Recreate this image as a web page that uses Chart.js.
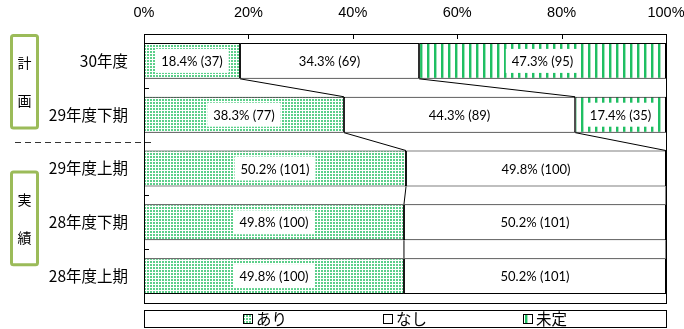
<!DOCTYPE html>
<html>
<head>
<meta charset="utf-8">
<script src="https://cdn.jsdelivr.net/npm/chart.js@4.4.1/dist/chart.umd.min.js"></script>
<style>
  html, body { margin: 0; padding: 0; background: #fff; }
</style>
</head>
<body>
<canvas id="surveychart" width="684" height="329"></canvas>
<script>
// values
const categories = ['30年度', '29年度下期', '29年度上期', '28年度下期', '28年度上期'];
const seriesNames = ['あり', 'なし', '未定'];
const ariPct = [18.4, 38.3, 50.2, 49.8, 49.8];
const nashiPct = [34.3, 44.3, 49.8, 50.2, 50.2];
const miteiPct = [47.3, 17.4, null, null, null];
const ariCount = [37, 77, 101, 100, 100];
const nashiCount = [69, 89, 100, 101, 101];
const miteiCount = [95, 35, null, null, null];
const xTicks = [0, 20, 40, 60, 80, 100];
const groups = [
    { chars: ['計', '画'], from: 0, to: 1 },
    { chars: ['実', '績'], from: 2, to: 4 },
];

const JP = '"Noto Sans CJK JP", "Noto Sans", sans-serif';

function makeDots() {
    const c = document.createElement('canvas');
    c.width = 3; c.height = 3;
    const g = c.getContext('2d');
    g.fillStyle = '#ffffff';
    g.fillRect(0, 0, 3, 3);
    g.fillStyle = '#5ccf8a';
    g.fillRect(0, 0, 2, 2);
    return g.createPattern(c, 'repeat');
}

function makeStripes() {
    const c = document.createElement('canvas');
    c.width = 7; c.height = 4;
    const g = c.getContext('2d');
    g.fillStyle = '#ffffff';
    g.fillRect(0, 0, 7, 4);
    g.fillStyle = '#1fbf63';
    g.fillRect(0, 0, 2, 4);
    g.fillStyle = '#9fe3ba';
    g.fillRect(2, 0, 1, 4);
    return g.createPattern(c, 'repeat');
}

const dots = makeDots();
const stripes = makeStripes();
const fills = [dots, '#ffffff', stripes];
const counts = [ariCount, nashiCount, miteiCount];

const decorations = {
    id: 'decorations',
    afterDatasetsDraw(chart) {
        const ctx = chart.ctx;
        const xs = chart.scales.x;

        // series lines between neighbouring bars
        ctx.save();
        ctx.strokeStyle = '#000';
        ctx.lineWidth = 1;
        const cum = categories.map((_, i) => [ariPct[i], ariPct[i] + nashiPct[i]]);
        for (let i = 0; i < categories.length - 1; i++) {
            const a = chart.getDatasetMeta(0).data[i];
            const b = chart.getDatasetMeta(0).data[i + 1];
            const yA = a.y + a.height / 2;
            const yB = b.y - b.height / 2;
            for (let k = 0; k < 2; k++) {
                ctx.beginPath();
                ctx.moveTo(xs.getPixelForValue(Math.min(cum[i][k], 100)), yA);
                ctx.lineTo(xs.getPixelForValue(Math.min(cum[i + 1][k], 100)), yB);
                ctx.stroke();
            }
        }
        ctx.restore();

        // value labels
        ctx.save();
        ctx.font = '13px Lato, "Liberation Sans", sans-serif';
        ctx.textAlign = 'center';
        ctx.textBaseline = 'middle';
        chart.data.datasets.forEach((ds, d) => {
            chart.getDatasetMeta(d).data.forEach((bar, i) => {
                const v = ds.data[i];
                if (v == null) return;
                const text = v.toFixed(1) + '% (' + counts[d][i] + ')';
                const cx = (bar.x + bar.base) / 2;
                if (d !== 1) {
                    const w = ctx.measureText(text).width + 12;
                    ctx.fillStyle = '#fff';
                    ctx.fillRect(cx - w / 2, bar.y - 12, w, 24);
                }
                ctx.fillStyle = '#000';
                ctx.fillText(text, cx, bar.y + 1);
            });
        });
        ctx.restore();
    },
    afterDraw(chart) {
        const ctx = chart.ctx;
        const xs = chart.scales.x;
        const ys = chart.scales.y;
        const area = chart.chartArea;
        const boundary = i => (ys.getPixelForValue(i) + ys.getPixelForValue(i + 1)) / 2;

        ctx.save();
        ctx.strokeStyle = '#000';
        ctx.lineWidth = 1;
        ctx.strokeRect(Math.round(area.left) + 0.5, Math.round(area.top) + 0.5,
            Math.round(area.right - area.left), Math.round(area.bottom - area.top));

        // inward tick marks
        ctx.beginPath();
        xTicks.slice(1, -1).forEach(v => {
            const x = Math.round(xs.getPixelForValue(v)) + 0.5;
            ctx.moveTo(x, area.top);
            ctx.lineTo(x, area.top + 5);
        });
        for (let i = 0; i < categories.length - 1; i++) {
            const y = Math.round(boundary(i)) + 0.5;
            ctx.moveTo(area.left, y);
            ctx.lineTo(area.left + 5, y);
        }
        ctx.stroke();

        // dashed separator between plan and actual
        const sepY = Math.round(boundary(1)) + 0.5;
        ctx.setLineDash([6, 4]);
        ctx.strokeStyle = '#333';
        ctx.beginPath();
        ctx.moveTo(15, sepY);
        ctx.lineTo(area.left + 9, sepY);
        ctx.stroke();
        ctx.setLineDash([]);

        // group boxes
        groups.forEach((g, n) => {
            const top = n === 0 ? area.top : boundary(g.from - 1) + 29;
            const bottom = n === 0 ? boundary(g.to) - 12 : boundary(g.to - 1) + 17;
            ctx.strokeStyle = '#9bbb59';
            ctx.lineWidth = 3;
            ctx.beginPath();
            ctx.roundRect(11.5, top + 1.5, 26, bottom - top - 3, 2);
            ctx.stroke();
            const mid = (top + bottom) / 2;
            ctx.fillStyle = '#000';
            ctx.font = '14px ' + JP;
            ctx.textAlign = 'center';
            ctx.textBaseline = 'middle';
            ctx.fillText(g.chars[0], 24.5, mid - 19);
            ctx.fillText(g.chars[1], 24.5, mid + 19);
        });

        // legend
        const lx = Math.round(area.left) + 0.5;
        const lw = Math.round(area.right - area.left);
        ctx.strokeStyle = '#000';
        ctx.lineWidth = 1;
        ctx.strokeRect(lx, 310.5, lw, 17);
        ctx.font = '15.5px ' + JP;
        ctx.textAlign = 'left';
        ctx.textBaseline = 'middle';
        const centre = lx + lw / 2;
        seriesNames.forEach((name, k) => {
            const tw = ctx.measureText(name).width;
            const itemW = 10 + 3 + tw;
            const x0 = Math.round(centre + (k - 1) * 140 - itemW / 2);
            ctx.fillStyle = fills[k];
            ctx.fillRect(x0, 314, 10, 10);
            ctx.strokeStyle = '#000';
            ctx.strokeRect(x0 + 0.5, 314.5, 9, 9);
            ctx.fillStyle = '#000';
            ctx.fillText(name, x0 + 13, 319.5);
        });
        ctx.restore();
    }
};

document.addEventListener('DOMContentLoaded', function () {
    const ctx = document.getElementById('surveychart').getContext('2d');
    const values = [ariPct, nashiPct, miteiPct];

    new Chart(ctx, {
        type: 'bar',
        data: {
            labels: categories,
            datasets: seriesNames.map((name, k) => ({
                label: name,
                data: values[k],
                backgroundColor: fills[k],
                borderColor: '#000',
                borderWidth: 1,
                borderSkipped: false,
                categoryPercentage: 1,
                barPercentage: 0.667,
            })),
        },
        options: {
            indexAxis: 'y',
            responsive: false,
            animation: false,
            layout: { padding: { left: 0, right: 18, top: 0, bottom: 26 } },
            plugins: {
                legend: { display: false },
                tooltip: { enabled: false },
            },
            scales: {
                x: {
                    position: 'top',
                    stacked: true,
                    min: 0,
                    max: 100,
                    ticks: {
                        stepSize: 20,
                        callback: v => v + '%',
                        color: '#000',
                        font: { size: 14.5, family: '"Liberation Sans", Arial, sans-serif' },
                        padding: 12,
                        maxRotation: 0,
                    },
                    grid: { display: false, drawTicks: false },
                    border: { display: false },
                    afterFit: s => {
                        s.height = 34;
                        s.paddingLeft = 0;
                        s.paddingRight = 0;
                    },
                },
                y: {
                    stacked: true,
                    ticks: {
                        color: '#000',
                        font: { size: 15.5, family: JP },
                        padding: 16,
                    },
                    grid: { display: false, drawTicks: false },
                    border: { display: false },
                    afterFit: s => { s.width = 144; },
                },
            },
        },
        plugins: [decorations],
    });
});
</script>
</body>
</html>
